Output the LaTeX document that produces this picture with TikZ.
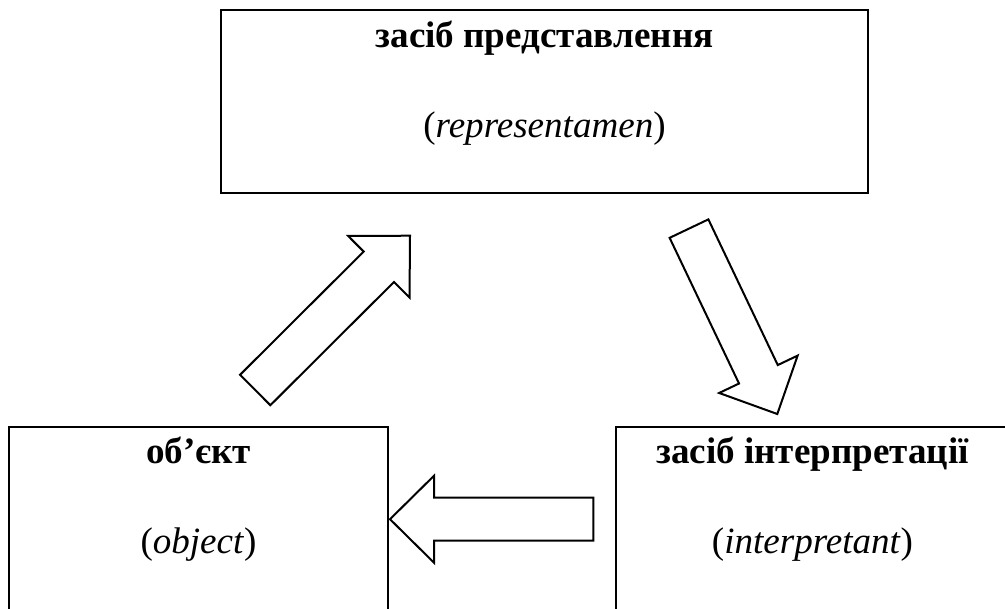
\documentclass[tikz,border=0pt]{standalone}
\usepackage{fontspec}
\setmainfont{Liberation Serif}
\usetikzlibrary{calc}
\tikzset{
  box/.style={draw, line width=2pt, inner sep=0pt},
  blockarrow/.style={draw, line width=1.5pt, line join=miter, fill=white},
  titletext/.style={anchor=base, inner sep=0pt, font=\fontsize{27.8}{32}\selectfont\bfseries},
  subtext/.style={anchor=base, inner sep=0pt, font=\fontsize{27.8}{32}\selectfont},
}
\newcommand{\blockarr}[2]{%
  \coordinate (h#1) at ($(#2)!33pt!(#1)$);
  \draw[blockarrow] ($(#1)!16.1pt!90:(#2)$) -- ($(h#1)!16.1pt!90:(#2)$) -- ($(h#1)!32.6pt!90:(#2)$) -- (#2) -- ($(h#1)!32.6pt!-90:(#2)$) -- ($(h#1)!16.1pt!-90:(#2)$) -- ($(#1)!16.1pt!-90:(#2)$) -- cycle;}
\begin{document}
\begin{tikzpicture}[x=0.75pt,y=-0.75pt]
\clip (0,0) rectangle (1005,608);
\useasboundingbox (0,0) rectangle (1005,608);
% boxes
\node[box, minimum width=485.25pt, minimum height=137.25pt] (rep) at (544.5,101.5) {};
\node[box, minimum width=284.25pt, minimum height=137.25pt] (obj) at (198.5,518.5) {};
\node[box, minimum width=294.75pt, minimum height=137.25pt] (int) at (812.5,518.5) {};
% texts
\node[titletext] (repA) at (544.5,47) {засіб представлення};
\node[subtext] (repB) at (544.5,137) {(\textit{representamen})};
\node[titletext] (objA) at (198.5,463) {об’єкт};
\node[subtext] (objB) at (198.5,553) {(\textit{object})};
\node[titletext] (intA) at (812.5,463) {засіб інтерпретації};
\node[subtext] (intB) at (812.5,553) {(\textit{interpretant})};
% arrows
\coordinate (a1t) at (255.2,390);
\coordinate (a1p) at (410,235.7);
\coordinate (a2t) at (689,228.6);
\coordinate (a2p) at (777.3,414);
\coordinate (a3t) at (593.3,519.2);
\coordinate (a3p) at (390,519.2);
\blockarr{a1t}{a1p}
\blockarr{a2t}{a2p}
\blockarr{a3t}{a3p}
\end{tikzpicture}
\end{document}
